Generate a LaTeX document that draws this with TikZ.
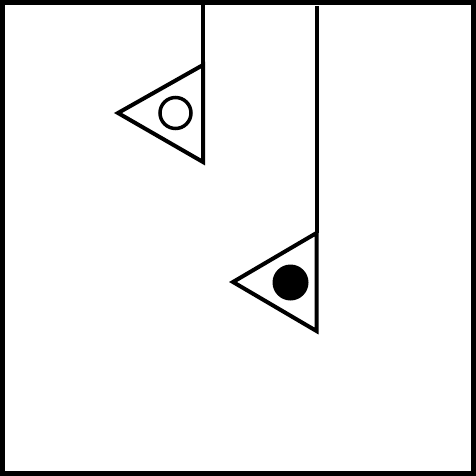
\documentclass[tikz,border=0pt]{standalone}
\begin{document}
\begin{tikzpicture}[x=1pt, y=-1pt, line width=4pt]
                % Frame
                \useasboundingbox (0,0) rectangle (476,476);
                \draw[line width=5pt] (2.5,2.5) rectangle (473.5,473.5);
                
                % Upper symbol (open circle)
                \coordinate (top1) at (203, 0);
                \coordinate (a1) at (203, 65);
                \coordinate (b1) at (203, 162);
                \coordinate (tip1) at (118, 113);
                \draw (top1) -- (a1);
                \draw[line join=miter] (a1) -- (tip1) -- (b1) -- cycle;
                \draw[line width=3.5pt] (175.5, 113) circle (15.5);
                
                % Lower symbol (filled circle)
                \coordinate (top2) at (316.5, 6);
                \coordinate (a2) at (316.5, 233);
                \coordinate (b2) at (316.5, 331);
                \coordinate (tip2) at (233, 282);
                \draw (top2) -- (a2);
                \draw[line join=miter] (a2) -- (tip2) -- (b2) -- cycle;
                \fill (290.5, 282.5) circle (18);
\end{tikzpicture}
\end{document}
